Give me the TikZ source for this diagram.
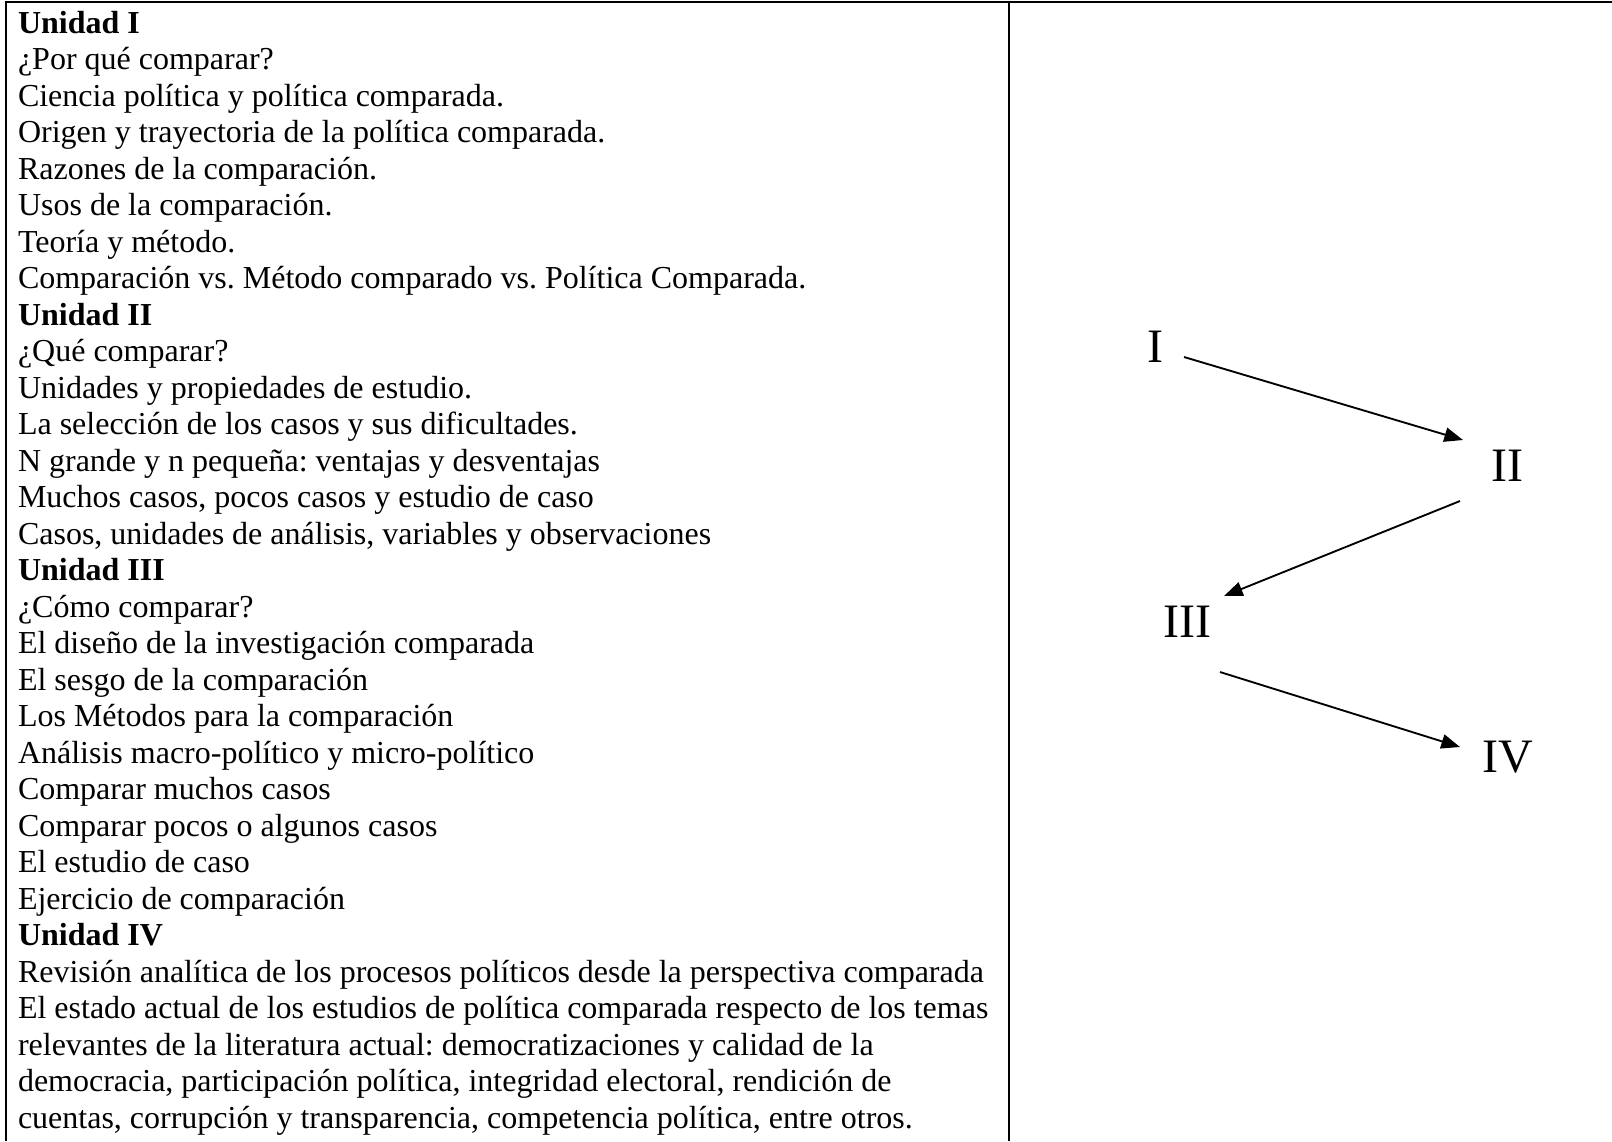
\documentclass[tikz,border=0pt]{standalone}
\usepackage{fontspec}
\setmainfont{Liberation Serif}
\usetikzlibrary{positioning,arrows.meta}
\frenchspacing

\begin{document}
\begin{tikzpicture}[x=0.375pt,y=-0.375pt,
  topic/.style={anchor=base west,inner sep=0pt,outer sep=0pt,text height=9.5pt,text depth=4.19pt,font=\fontsize{12}{13.69}\selectfont},
  numeral/.style={inner sep=0pt,font=\fontsize{18}{21}\selectfont},
  flow/.style={line width=0.7pt,-{Triangle[length=7pt,width=5.4pt]}}]
\useasboundingbox (0,0) rectangle (1612,1141);
\draw [line width=0.8pt] (1612,2) -- (6,2) -- (6,1141);
\draw [line width=0.8pt] (1009,2) -- (1009,1141);
\matrix (units) [anchor=north west,inner sep=0pt,outer sep=0pt,nodes={topic}] at (18,7.7)
{
\node (u1) {\textbf{Unidad I}};\\
\node (a1) {¿Por qué comparar?};\\
\node (a2) {Ciencia política y política comparada.};\\
\node (a3) {Origen y trayectoria de la política comparada.};\\
\node (a4) {Razones de la comparación.};\\
\node (a5) {Usos de la comparación.};\\
\node (a6) {Teoría y método.};\\
\node (a7) {Comparación vs. Método comparado vs. Política Comparada.};\\
\node (u2) {\textbf{Unidad II}};\\
\node (b1) {¿Qué comparar?};\\
\node (b2) {Unidades y propiedades de estudio.};\\
\node (b3) {La selección de los casos y sus dificultades.};\\
\node (b4) {N grande y n pequeña: ventajas y desventajas};\\
\node (b5) {Muchos casos, pocos casos y estudio de caso};\\
\node (b6) {Casos, unidades de análisis, variables y observaciones};\\
\node (u3) {\textbf{Unidad III}};\\
\node (c1) {¿Cómo comparar?};\\
\node (c2) {El diseño de la investigación comparada};\\
\node (c3) {El sesgo de la comparación};\\
\node (c4) {Los Métodos para la comparación};\\
\node (c5) {Análisis macro-político y micro-político};\\
\node (c6) {Comparar muchos casos};\\
\node (c7) {Comparar pocos o algunos casos};\\
\node (c8) {El estudio de caso};\\
\node (c9) {Ejercicio de comparación};\\
\node (u4) {\textbf{Unidad IV}};\\
\node (d1) {Revisión analítica de los procesos políticos desde la perspectiva comparada};\\
\node (d2) {El estado actual de los estudios de política comparada respecto de los temas};\\
\node (d3) {relevantes de la literatura actual: democratizaciones y calidad de la};\\
\node (d4) {democracia, participación política, integridad electoral, rendición de};\\
\node (d5) {cuentas, corrupción y transparencia, competencia política, entre otros.};\\
};
\node [numeral] (i) at (1155,347) {I};
\node [numeral] (ii) at (1507,466) {II};
\node [numeral] (iii) at (1187,622) {III};
\node [numeral] (iv) at (1508,757) {IV};
\draw [flow] ([shift={(29,10)}]i.center) -- ([shift={(-44,-26)}]ii.center);
\draw [flow] ([shift={(-47,35)}]ii.center) -- ([shift={(37,-26)}]iii.center);
\draw [flow] ([shift={(33,50)}]iii.center) -- ([shift={(-48,-10)}]iv.center);
\end{tikzpicture}
\end{document}
